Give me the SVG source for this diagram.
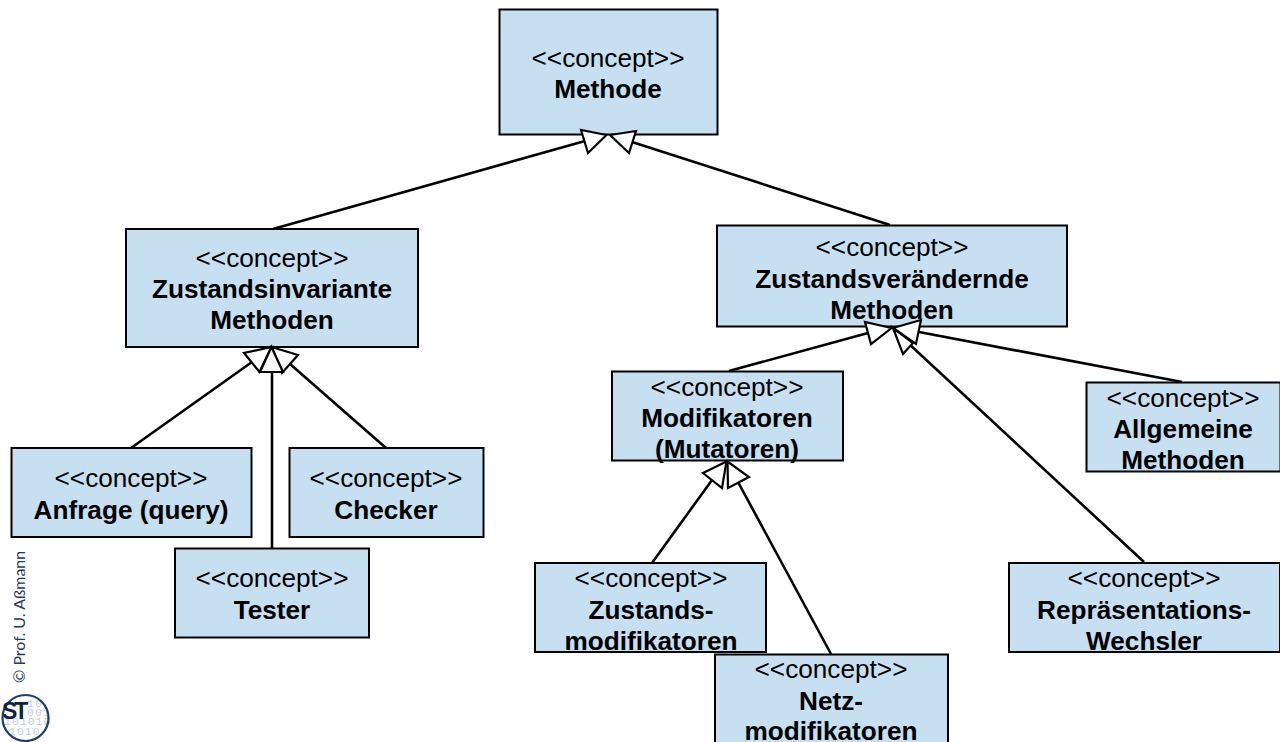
<svg xmlns="http://www.w3.org/2000/svg" width="1280" height="742" viewBox="0 0 1280 742">
<style>
.n{fill:#c6dff1;stroke:#000;stroke-width:2}
text{font-family:"Liberation Sans",Arial,sans-serif;font-size:26.200px;fill:#000;text-anchor:middle}
.b{font-weight:bold}
.c{fill:none;stroke:#000;stroke-width:2.600}
.h{fill:#fff;stroke:#000;stroke-width:2.200;stroke-linejoin:miter}
.d{font-family:"Liberation Mono",monospace;font-size:11.500px;letter-spacing:1px;fill:#c3cfde;text-anchor:start}
</style>
<g id="n-methode"><rect class="n" x="499.500" y="9.500" width="218" height="125"/><text x="608" y="67">&lt;&lt;concept&gt;&gt;</text><text class="b" x="608" y="98">Methode</text></g>
<g id="n-inv"><rect class="n" x="126" y="229" width="292" height="118"/><text x="272" y="267">&lt;&lt;concept&gt;&gt;</text><text class="b" x="272" y="298">Zustandsinvariante</text><text class="b" x="272" y="329">Methoden</text></g>
<g id="n-ver"><rect class="n" x="717" y="225.500" width="350" height="101"/><text x="892" y="256">&lt;&lt;concept&gt;&gt;</text><text class="b" x="892" y="288">Zustandsverändernde</text><text class="b" x="892" y="319">Methoden</text></g>
<g id="n-anfrage"><rect class="n" x="11.500" y="448" width="240" height="89"/><text x="131" y="487">&lt;&lt;concept&gt;&gt;</text><text class="b" x="131" y="519">Anfrage (query)</text></g>
<g id="n-checker"><rect class="n" x="289.500" y="448" width="194" height="89"/><text x="386" y="487">&lt;&lt;concept&gt;&gt;</text><text class="b" x="386" y="519">Checker</text></g>
<g id="n-tester"><rect class="n" x="175" y="548.500" width="194" height="89"/><text x="272" y="587">&lt;&lt;concept&gt;&gt;</text><text class="b" x="272" y="619">Tester</text></g>
<g id="n-mod"><rect class="n" x="612" y="371.500" width="231" height="89"/><text x="727" y="396">&lt;&lt;concept&gt;&gt;</text><text class="b" x="727" y="427">Modifikatoren</text><text class="b" x="727" y="458">(Mutatoren)</text></g>
<g id="n-allg"><rect class="n" x="1086.500" y="382.500" width="194" height="89"/><text x="1183" y="407">&lt;&lt;concept&gt;&gt;</text><text class="b" x="1183" y="438">Allgemeine</text><text class="b" x="1183" y="469">Methoden</text></g>
<g id="n-zmod"><rect class="n" x="535" y="563" width="231" height="89"/><text x="651" y="587">&lt;&lt;concept&gt;&gt;</text><text class="b" x="651" y="619">Zustands-</text><text class="b" x="651" y="650">modifikatoren</text></g>
<g id="n-rep"><rect class="n" x="1009" y="563" width="271" height="89"/><text x="1144" y="587">&lt;&lt;concept&gt;&gt;</text><text class="b" x="1144" y="619">Repräsentations-</text><text class="b" x="1144" y="650">Wechsler</text></g>
<g id="n-netz"><rect class="n" x="715" y="654.500" width="233" height="89"/><text x="831" y="678">&lt;&lt;concept&gt;&gt;</text><text class="b" x="831" y="710">Netz-</text><text class="b" x="831" y="740">modifikatoren</text></g>
<g id="connectors">
<line class="c" x1="273" y1="229" x2="585" y2="141"/>
<line class="c" x1="890" y1="225" x2="632" y2="142"/>
<line class="c" x1="131" y1="448" x2="252" y2="362"/>
<line class="c" x1="272" y1="548" x2="272" y2="372"/>
<line class="c" x1="386" y1="448" x2="290" y2="364"/>
<line class="c" x1="729" y1="371" x2="868" y2="333"/>
<line class="c" x1="1182" y1="382" x2="919" y2="332"/>
<line class="c" x1="1144" y1="562" x2="908" y2="343"/>
<line class="c" x1="652" y1="563" x2="712" y2="480"/>
<line class="c" x1="831" y1="654" x2="738" y2="482"/>
<polygon class="h" points="606.500,135 581,130 588,153"/>
<polygon class="h" points="610,135 636,131 629,153"/>
<polygon class="h" points="271.500,347 244,353 259.500,372"/>
<polygon class="h" points="271.500,347 298,355 282,373"/>
<polygon class="h" points="271.500,347 260,372 283,372"/>
<polygon class="h" points="891.500,328 865,322 871,344"/>
<polygon class="h" points="893,328 921,320 916,344"/>
<polygon class="h" points="893,328 903,354 913,343"/>
<polygon class="h" points="726.500,461.500 703,473 722,488"/>
<polygon class="h" points="727.500,461.500 728,488 749,477"/>
</g>
<g id="logo">
<text transform="translate(25 683) rotate(-90)" style="font-family:Lato,sans-serif;font-size:16px;fill:#1f3a5f;text-anchor:start">© Prof. U. Aßmann</text>
<text class="d" x="27" y="707">10</text><text class="d" x="27" y="716">001</text><text class="d" x="4" y="725">101010</text><text class="d" x="9" y="735">1010</text>
<circle cx="25.500" cy="718" r="23" fill="none" stroke="#1d3f6b" stroke-width="2.200"/>
<text x="2" y="719" style="font-size:23px;font-weight:bold;fill:#11233d;letter-spacing:-3px;text-anchor:start">ST</text>
</g>
</svg>
